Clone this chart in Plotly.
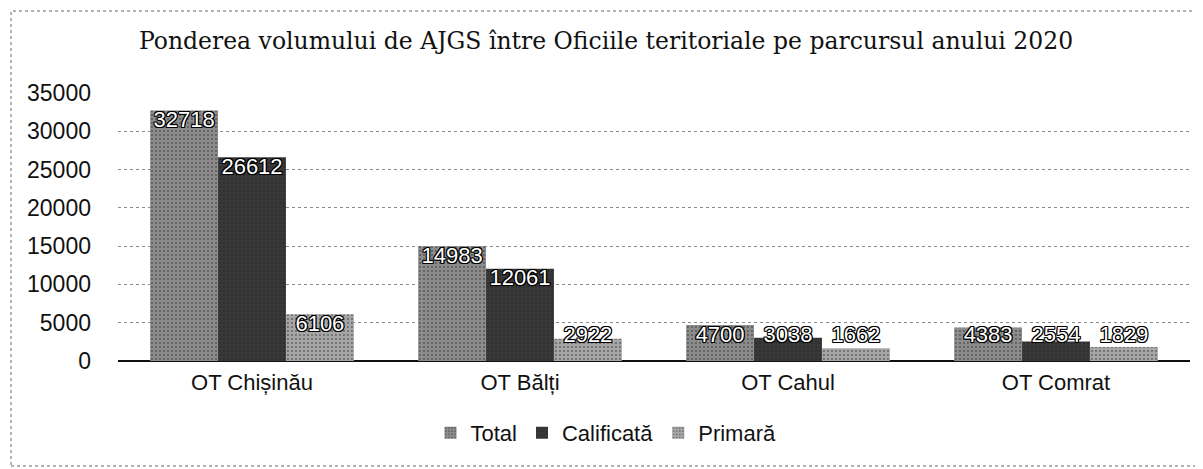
import plotly.graph_objects as go

categories = ["OT Chișinău", "OT Bălți", "OT Cahul", "OT Comrat"]
total = [32718, 14983, 4700, 4383]
calificata = [26612, 12061, 3038, 2554]
primara = [6106, 2922, 1662, 1829]
series_names = ["Total", "Calificată", "Primară"]
y_ticks = [0, 5000, 10000, 15000, 20000, 25000, 30000, 35000]

# labels of short bars are kept at the height Excel clamps them to
LABEL_FLOOR = 4700

colors = ["#8c8c8c", "#383838", "#a6a6a6"]
outline = ("1px 1px 0 #000, -1px -1px 0 #000, 1px -1px 0 #000, -1px 1px 0 #000, "
           "0 1px 0 #000, 0 -1px 0 #000, 1px 0 0 #000, -1px 0 0 #000")

W, H = 1203, 469
ml, mr, mt, mb = 110, 21, 85, 116
pw, ph = W - ml - mr, H - mt - mb
GAP = 0.24

fig = go.Figure()
for name, vals, col in zip(series_names, [total, calificata, primara], colors):
    fig.add_trace(go.Bar(
        x=categories, y=vals, name=name, offsetgroup=name,
        marker=dict(color=col, line=dict(width=0),
                    pattern=dict(shape=".", fgcolor="#1e1e1e", bgcolor=col, size=4, solidity=0.18)),
        hoverinfo="x+y",
    ))
for name, vals in zip(series_names, [total, calificata, primara]):
    fig.add_trace(go.Scatter(
        x=categories, y=[max(v, LABEL_FLOOR) for v in vals], offsetgroup=name,
        mode="text", text=[str(v) for v in vals], textposition="bottom center",
        textfont=dict(family="Liberation Sans, Arial, sans-serif", size=22, color="white",
                      shadow=outline),
        showlegend=False, hoverinfo="skip", cliponaxis=False,
    ))

fig.update_layout(
    width=W, height=H,
    margin=dict(l=ml, r=mr, t=mt, b=mb),
    paper_bgcolor="white", plot_bgcolor="white",
    barmode="group", bargap=GAP, bargroupgap=0,
    scattermode="group", scattergap=GAP,
    title=dict(text="Ponderea volumului de AJGS între Oficiile teritoriale pe parcursul anului 2020",
               x=(598 - ml) / pw, xref="paper", xanchor="center", y=1 - 33 / H, yanchor="middle",
               font=dict(family="DejaVu Serif, serif", size=23.5, color="#111")),
    font=dict(family="Liberation Sans, Arial, sans-serif", color="#111"),
    showlegend=True,
    legend=dict(orientation="h", x=(598 - ml) / pw, xanchor="center", y=(353 - 425) / ph, yanchor="middle",
                font=dict(size=22, color="#111"), traceorder="normal"),
    xaxis=dict(range=[-0.5, 3.5], showgrid=False, showline=False, ticks="",
               tickfont=dict(size=22, color="#111"), ticklabelstandoff=6),
    yaxis=dict(range=[0, 35000], tickvals=y_ticks, ticktext=[str(t) for t in y_ticks],
               showgrid=True, gridcolor="#8a8a8a", griddash="dot", gridwidth=1,
               zeroline=True, zerolinecolor="#111", zerolinewidth=2,
               tickfont=dict(size=23, color="#111"), ticklabelstandoff=26, ticks=""),
    shapes=[dict(type="rect", xref="paper", yref="paper",
                 x0=(3 - ml) / pw, x1=(1200 - ml) / pw,
                 y0=(353 - 458) / ph, y1=(353 - 3) / ph,
                 line=dict(color="#666", width=1, dash="dot"))],
)

fig.write_html("out.html")
